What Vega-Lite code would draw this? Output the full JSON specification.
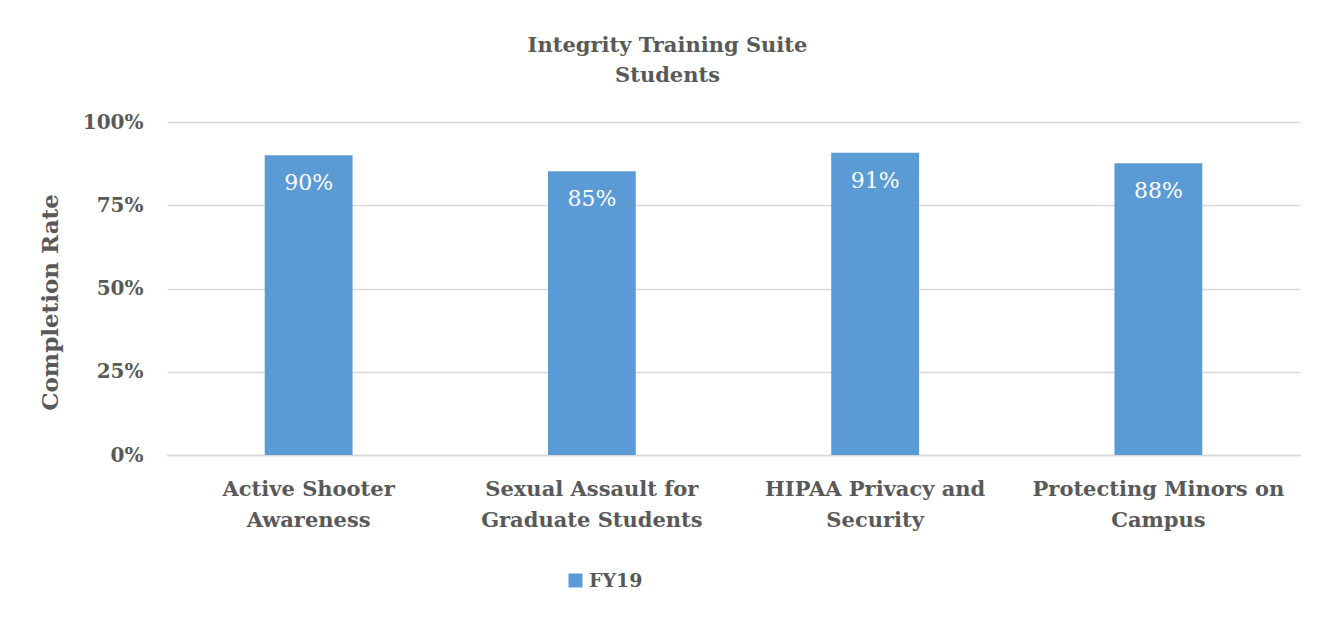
{
  "$schema": "https://vega.github.io/schema/vega-lite/v6.json",
  "autosize": {"type": "none"},
  "padding": {"left": 167, "top": 122, "right": 35, "bottom": 162},
  "width": 1133,
  "height": 333,
  "background": "white",
  "title": {
    "text": ["Integrity Training Suite", "Students"],
    "font": "DejaVu Serif",
    "fontSize": 21,
    "fontWeight": "bold",
    "color": "#595959",
    "anchor": "middle",
    "dx": -66,
    "offset": 26,
    "lineHeight": 30
  },
  "data": {
    "values": [
      {"course": "Active Shooter Awareness", "rate": 0.90, "series": "FY19"},
      {"course": "Sexual Assault for Graduate Students", "rate": 0.852, "series": "FY19"},
      {"course": "HIPAA Privacy and Security", "rate": 0.908, "series": "FY19"},
      {"course": "Protecting Minors on Campus", "rate": 0.876, "series": "FY19"}
    ]
  },
  "encoding": {
    "x": {
      "field": "course",
      "type": "nominal",
      "sort": null,
      "scale": {"paddingInner": 0.69, "paddingOuter": 0.345},
      "axis": {
        "title": null,
        "labelAngle": 0,
        "labelFont": "DejaVu Serif",
        "labelFontSize": 21,
        "labelFontWeight": "bold",
        "labelColor": "#595959",
        "labelLineHeight": 31,
        "labelPadding": 23,
        "labelLimit": 400,
        "ticks": false,
        "domainColor": "#D9D9D9",
        "domainWidth": 1.5,
        "labelExpr": "datum.value == 'Active Shooter Awareness' ? ['Active Shooter', 'Awareness'] : datum.value == 'Sexual Assault for Graduate Students' ? ['Sexual Assault for', 'Graduate Students'] : datum.value == 'HIPAA Privacy and Security' ? ['HIPAA Privacy and', 'Security'] : ['Protecting Minors on', 'Campus']"
      }
    },
    "y": {
      "field": "rate",
      "type": "quantitative",
      "scale": {"domain": [0, 1]},
      "axis": {
        "title": "Completion Rate",
        "titleFont": "DejaVu Serif",
        "titleFontSize": 23,
        "titleFontWeight": "bold",
        "titleColor": "#595959",
        "titlePadding": 20,
        "titleY": 180,
        "values": [0, 0.25, 0.5, 0.75, 1],
        "format": ".0%",
        "labelFont": "DejaVu Serif",
        "labelFontSize": 20,
        "labelFontWeight": "bold",
        "labelColor": "#595959",
        "labelPadding": 24,
        "ticks": false,
        "domain": false,
        "gridColor": "#D9D9D9",
        "gridWidth": 1.5
      }
    }
  },
  "layer": [
    {
      "mark": {"type": "bar", "color": "#5B9BD5"},
      "encoding": {
        "color": {
          "field": "series",
          "type": "nominal",
          "scale": {"range": ["#5B9BD5"]},
          "legend": {
            "title": null,
            "orient": "none",
            "legendX": 399,
            "legendY": 449,
            "symbolType": "square",
            "symbolSize": 196,
            "symbolStrokeWidth": 0,
            "symbolOpacity": 1,
            "labelFont": "DejaVu Serif",
            "labelFontSize": 19,
            "labelFontWeight": "bold",
            "labelColor": "#595959",
            "labelOffset": 4
          }
        }
      }
    },
    {
      "mark": {
        "type": "text",
        "color": "white",
        "font": "DejaVu Serif",
        "fontSize": 22,
        "baseline": "alphabetic",
        "dy": 35
      },
      "encoding": {
        "text": {"field": "rate", "type": "quantitative", "format": ".0%"}
      }
    }
  ],
  "config": {
    "view": {"stroke": null}
  }
}
